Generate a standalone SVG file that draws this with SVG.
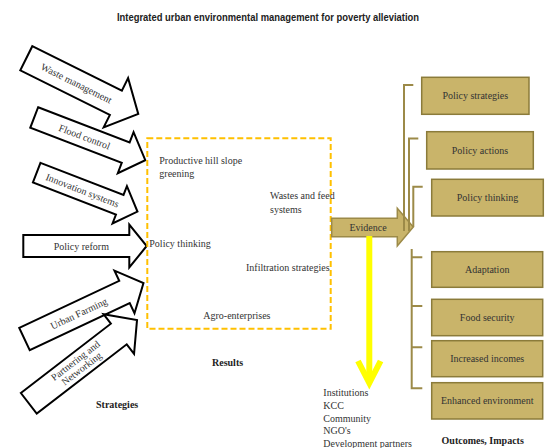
<svg xmlns="http://www.w3.org/2000/svg" width="550" height="448" viewBox="0 0 550 448">
<style>
.t{font-family:"Liberation Serif","DejaVu Serif",serif;font-size:10px;fill:#333}
.c{text-anchor:middle}
.b{font-weight:bold;fill:#222}
.blk{fill:#fff;stroke:#000;stroke-width:2;stroke-linejoin:miter}
.box{fill:#C9B46A;stroke:#8B7B3A;stroke-width:1.5}
.br{fill:none;stroke:#9C8A48;stroke-width:2}
</style>
<rect width="550" height="448" fill="#fff"/>
<text x="268" y="21" font-family="'Liberation Sans','DejaVu Sans',sans-serif" font-size="10" font-weight="bold" fill="#222" text-anchor="middle" textLength="302" lengthAdjust="spacingAndGlyphs">Integrated urban environmental management for poverty alleviation</text>

<g id="waste-management" transform="translate(26.3,58.3) rotate(26.4)">
<path class="blk" d="M0,-13.5 L100,-13.5 L100,-27.5 L125,0 L100,27.5 L100,13.5 L0,13.5 Z"/>
<text class="t c" x="56" y="3.5" font-size="11">Waste management</text>
</g>
<g id="flood-control" transform="translate(34.2,117.5) rotate(21)">
<path class="blk" d="M0,-11 L98,-11 L98,-22 L119,0 L98,22 L98,11 L0,11 Z"/>
<text class="t c" x="54" y="3.5" font-size="11">Flood control</text>
</g>
<g id="innovation-systems" transform="translate(36.7,172.7) rotate(21.1)">
<path class="blk" d="M0,-10.5 L89,-10.5 L89,-20 L108,0 L89,20 L89,10.5 L0,10.5 Z"/>
<text class="t c" x="49" y="3.5" font-size="11">Innovation systems</text>
</g>
<g id="policy-reform" transform="translate(23.3,246)">
<path class="blk" d="M0,-11 L106,-11 L106,-21.5 L123.4,0 L106,21.5 L106,11 L0,11 Z"/>
<text class="t c" x="58" y="3.5" font-size="11">Policy reform</text>
</g>
<g id="urban-farming" transform="translate(24.5,339) rotate(-25.2)">
<path class="blk" d="M0,-12.3 L110.5,-12.3 L110.5,-23.5 L131.5,0 L110.5,23.5 L110.5,12.3 L0,12.3 Z"/>
<text class="t c" x="60" y="3.5" font-size="11">Urban Farming</text>
</g>
<g id="partnering-networking" transform="translate(28.8,403.3) rotate(-37.6)">
<path class="blk" d="M0,-13 L113.6,-13 L113.6,-25 L136.6,0 L113.6,25 L113.6,13 L0,13 Z"/>
<text class="t c" x="63" y="-2" font-size="10.5">Partnering and</text>
<text class="t c" x="63" y="8" font-size="10.5">Networking</text>
</g>
<text class="t b" x="96" y="408">Strategies</text>

<g id="results">
<rect x="147.3" y="138.3" width="183.4" height="190.4" fill="none" stroke="#FFC000" stroke-width="2" stroke-dasharray="6,3"/>
<text class="t" x="159.3" y="163.5">Productive hill slope</text>
<text class="t" x="159.3" y="177">greening</text>
<text class="t" x="270" y="199">Wastes and feed</text>
<text class="t" x="270" y="212.5">systems</text>
<text class="t" x="149.3" y="246.5">Policy thinking</text>
<text class="t" x="246" y="270.5">Infiltration strategies</text>
<text class="t" x="203.3" y="319">Agro-enterprises</text>
</g>
<text class="t b" x="212" y="366">Results</text>

<g id="connectors">
<path id="evidence" d="M331.7,218.3 L397.3,218.3 L397.3,208.3 L413.3,227 L397.3,246 L397.3,236.7 L331.7,236.7 Z" fill="#C9B46A" stroke="#9C8A48" stroke-width="1.5"/>
<text class="t c" x="368" y="231">Evidence</text>
<line x1="369.3" y1="236" x2="369.3" y2="382" stroke="#FFFF00" stroke-width="6"/>
<polyline points="358,361 369.3,383 380.6,361" fill="none" stroke="#FFFF00" stroke-width="6"/>
<polyline class="br" points="413.3,85 404,85 404,231"/>
<polyline class="br" points="418.3,138.5 409,138.5 409,231"/>
<polyline class="br" points="422.7,186.7 413.3,186.7 413.3,227"/>
<path class="br" d="M411.7,249 L411.7,388.3 L422.3,388.3 M411.7,257.3 H422.3 M411.7,306 H422.3 M411.7,347.3 H422.3"/>
</g>

<g id="stakeholders">
<text class="t" x="323.3" y="396">Institutions</text>
<text class="t" x="323.3" y="409">KCC</text>
<text class="t" x="323.3" y="421.5">Community</text>
<text class="t" x="323.3" y="434">NGO's</text>
<text class="t" x="323.3" y="446.5">Development partners</text>
</g>

<g id="policy-strategies"><rect class="box" x="421.7" y="77.3" width="107.3" height="37"/><text class="t c" x="475.3" y="99.3">Policy strategies</text></g>
<g id="policy-actions"><rect class="box" x="426.7" y="131.7" width="106.6" height="37.3"/><text class="t c" x="480" y="153.8">Policy actions</text></g>
<g id="policy-thinking"><rect class="box" x="431.7" y="179.3" width="111.6" height="36.7"/><text class="t c" x="487.5" y="201.2">Policy thinking</text></g>
<g id="adaptation"><rect class="box" x="431.7" y="251.7" width="111" height="35.6"/><text class="t c" x="487.2" y="273">Adaptation</text></g>
<g id="food-security"><rect class="box" x="431.7" y="299.3" width="111" height="36.4"/><text class="t c" x="487.2" y="321">Food security</text></g>
<g id="increased-incomes"><rect class="box" x="431.7" y="340.7" width="111" height="36"/><text class="t c" x="487.2" y="362.2">Increased incomes</text></g>
<g id="enhanced-environment"><rect class="box" x="431.7" y="382.7" width="111" height="36.3"/><text class="t c" x="487.2" y="404.3">Enhanced environment</text></g>
<text class="t b c" x="482.7" y="444">Outcomes, Impacts</text>
</svg>
